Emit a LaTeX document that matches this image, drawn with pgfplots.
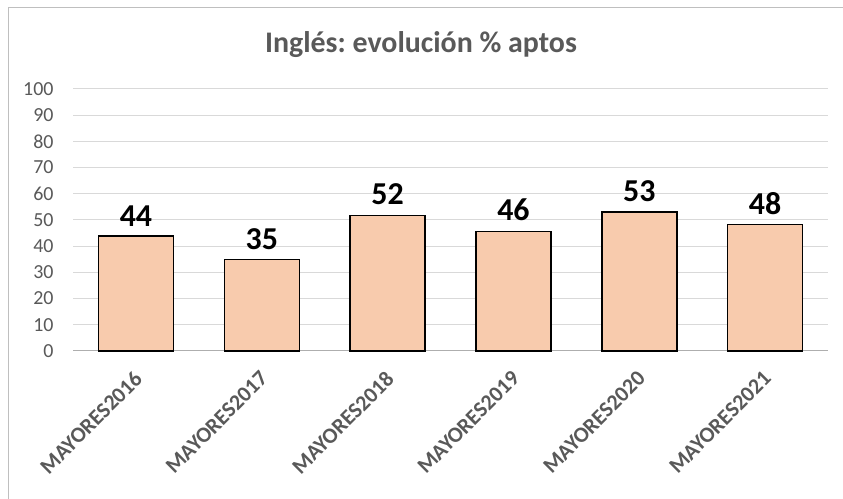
\documentclass[border=0pt]{standalone}
\usepackage{pgfplots}
\pgfplotsset{compat=1.18}
\usepackage{fontspec}
\setmainfont{Carlito}
\frenchspacing
\definecolor{barfill}{HTML}{F8CBAD}
\definecolor{txtgray}{HTML}{595959}
\definecolor{gridgray}{HTML}{D9D9D9}
\definecolor{framegray}{HTML}{BFBFBF}
\begin{document}
\begin{tikzpicture}[x=1bp,y=1bp]
\useasboundingbox (0,0) rectangle (843,499);
\fill[white] (0,0) rectangle (843,499);
\draw[framegray, line width=1bp] (8,-2) -- (8,491) -- (845,491);
\node[font=\bfseries\fontsize{30}{33}\selectfont, text=txtgray] at (421,454) {Inglés: evolución \% aptos};
\begin{axis}[
  at={(73bp,148bp)}, anchor=south west,
  scale only axis, width=755bp, height=262bp,
  xmin=-0.5, xmax=5.5, ymin=0, ymax=100,
  ytick={0,10,...,100},
  xtick={0,1,2,3,4,5},
  xticklabels={MAYORES2016,MAYORES2017,MAYORES2018,MAYORES2019,MAYORES2020,MAYORES2021},
  x tick label style={xshift=-3bp, yshift=-14bp, rotate=45, anchor=north east, font=\bfseries\fontsize{22}{24}\selectfont, text=txtgray},
  y tick label style={font=\fontsize{20}{22}\selectfont, text=txtgray, xshift=-16bp},
  /pgf/number format/assume math mode=true,
  major tick length=0pt,
  ymajorgrids, grid style={gridgray, line width=1bp},
  axis x line*=bottom, axis y line*=left,
  y axis line style={draw=none},
  x axis line style={gridgray!80!black, line width=1bp, -},
  ybar, bar width=75bp,
  point meta=explicit symbolic,
  nodes near coords,
  nodes near coords style={font=\bfseries\fontsize{32}{35}\selectfont, text=black, yshift=6bp},
  clip=false,
]
\addplot[fill=barfill, draw=black, line width=1.5bp] coordinates {
  (0,43.8) [44]
  (1,35.0) [35]
  (2,51.8) [52]
  (3,45.7) [46]
  (4,53.1) [53]
  (5,48.2) [48]
};
\end{axis}
\end{tikzpicture}
\end{document}
